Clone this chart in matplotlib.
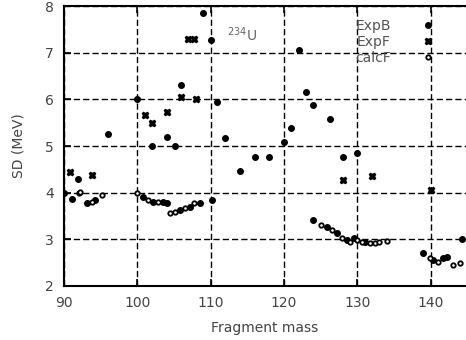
import matplotlib.pyplot as plt

plt.rcParams['font.family'] = ['DejaVu Sans']
plt.rcParams['lines.scale_dashes'] = False

# ExpB (filled markers)
expb_x = [90.0, 91.9, 96.0, 100.0, 102.0, 104.0, 105.1, 106.0, 108.9, 110.0, 110.9,
          112.0, 114.0, 116.0, 118.0, 120.0, 121.0, 122.0, 123.0, 124.0, 126.2,
          128.0, 130.0, 144.2,
          91.1, 93.1, 94.2, 100.8, 102.1, 103.5, 104.0, 105.8, 107.2, 108.5, 110.2,
          123.9, 125.8, 127.2, 128.6, 129.6, 131.0, 138.9, 140.3, 141.6, 142.2]
expb_y = [4.0, 4.3, 5.26, 6.0, 5.0, 5.2, 5.0, 6.3, 7.85, 7.27, 5.95,
          5.17, 4.47, 4.77, 4.77, 5.09, 5.39, 7.05, 6.16, 5.88, 5.58,
          4.77, 4.85, 3.0,
          3.87, 3.78, 3.85, 3.9, 3.8, 3.8, 3.78, 3.63, 3.7, 3.78, 3.85,
          3.42, 3.27, 3.14, 2.99, 3.03, 2.95, 2.71, 2.56, 2.6, 2.63]

# ExpF (crosses)
expf_x = [90.8, 93.8, 101.0, 102.0, 104.0, 106.0, 106.9, 107.7, 108.0, 128.0, 132.0, 140.0]
expf_y = [4.45, 4.38, 5.67, 5.5, 5.73, 6.05, 7.3, 7.3, 6.0, 4.27, 4.36, 4.06]

# calcF (small open markers)
calcf_x = [92.0, 92.2, 93.8, 95.2, 100.0, 101.5, 102.8, 104.4, 105.1, 106.5,
           107.8, 125.1, 126.5, 127.9, 129.0, 130.0, 130.6, 131.7, 132.4,
           133.0, 134.0, 139.9, 141.0, 143.0, 144.0]
calcf_y = [4.0, 4.02, 3.8, 3.95, 4.0, 3.85, 3.8, 3.57, 3.59, 3.67,
           3.78, 3.31, 3.2, 3.03, 2.95, 2.99, 2.95, 2.92, 2.92,
           2.95, 2.97, 2.6, 2.52, 2.45, 2.5]

fig = plt.figure(figsize=(4.66, 3.40), dpi=100)
ax = fig.add_axes([0.137, 0.159, 0.863, 0.823])

ax.plot(expb_x, expb_y, linestyle='none', marker='o', ms=4.0, color='black', label='ExpB')
ax.plot(expf_x, expf_y, linestyle='none', marker='X', ms=4.5, color='black', label='ExpF')
ax.plot(calcf_x, calcf_y, linestyle='none', marker='o', ms=3.2, mfc='white', mec='black',
        mew=1.3, label='calcF')

ax.set_xlim(90, 144.8)
ax.set_ylim(2, 8)
ax.set_xticks([90, 100, 110, 120, 130, 140])
ax.set_yticks([2, 3, 4, 5, 6, 7, 8])
ax.grid(True, color='black', linewidth=1.0, linestyle=(0, (4.5, 2.2)))
ax.tick_params(direction='in', length=5, width=1.2, top=True, labelsize=10,
               labelcolor='#444444', pad=7)
for s in ['left', 'bottom', 'top']:
    ax.spines[s].set_linewidth(1.5)
ax.spines['right'].set_visible(False)

ax.set_xlabel('Fragment mass', fontsize=10, color='#444444', labelpad=8)
ax.set_ylabel('SD (MeV)', fontsize=10, color='#444444', labelpad=14)

ax.text(112.2, 7.38, r'$^{234}$U', fontsize=10, color='#666666', va='center')

leg = ax.legend(loc='upper right', bbox_to_anchor=(0.955, 1.0), frameon=False,
                markerfirst=False, fontsize=10, handletextpad=2.2, handlelength=1.0,
                labelspacing=0.15, borderaxespad=0.5)
for t in leg.get_texts():
    t.set_color('#555555')

fig.savefig('out.png', dpi=100)
